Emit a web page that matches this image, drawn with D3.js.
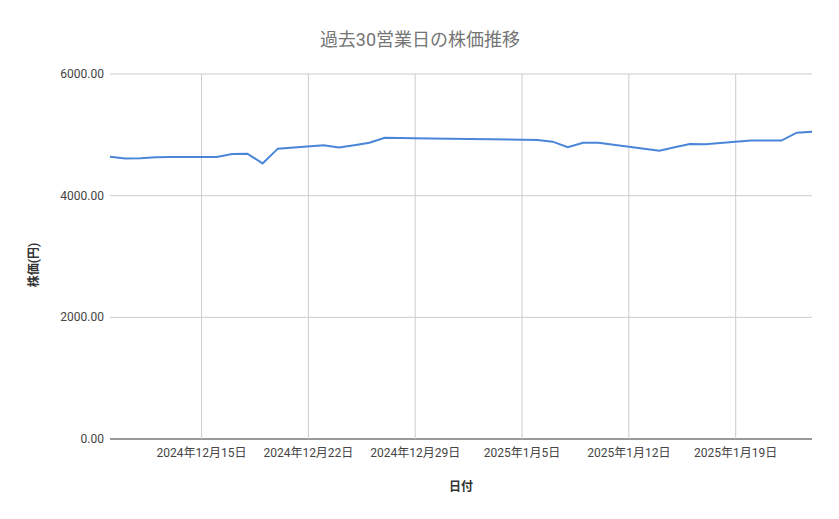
<!DOCTYPE html>
<html><head><meta charset="utf-8">
<script src="https://cdn.jsdelivr.net/npm/d3@7"></script>
<style>body{margin:0;background:#fff;font-family:Roboto,"Noto Sans CJK JP",sans-serif;}</style>
</head><body>
<div id="chart"></div>
<script>
// data
var dates = ["2024-12-09","2024-12-10","2024-12-11","2024-12-12","2024-12-13","2024-12-16","2024-12-17","2024-12-18","2024-12-19","2024-12-20",
  "2024-12-23","2024-12-24","2024-12-25","2024-12-26","2024-12-27","2024-12-30","2025-01-06","2025-01-07","2025-01-08","2025-01-09",
  "2025-01-10","2025-01-14","2025-01-15","2025-01-16","2025-01-17","2025-01-20","2025-01-21","2025-01-22","2025-01-23","2025-01-24"];
var prices = [4640,4610,4615,4630,4635,4637,4685,4690,4530,4773,
  4828,4790,4830,4870,4953,4940,4915,4888,4795,4870,
  4870,4740,4795,4850,4845,4905,4905,4905,5035,5050];
var yTicks = [0,2000,4000,6000];
var xTicks = ["2024-12-15","2024-12-22","2024-12-29","2025-01-05","2025-01-12","2025-01-19"];

var W = 839, H = 519;
var margin = {top: 74, right: 27, bottom: 80, left: 110};
var parse = d3.timeParse("%Y-%m-%d");
var data = dates.map(function(d, i){ return {date: parse(d), price: prices[i]}; });

var svg = d3.select("#chart").append("svg").attr("width", W).attr("height", H);

var x = d3.scaleTime()
    .domain([parse("2024-12-09"), parse("2025-01-24")])
    .range([margin.left, W - margin.right]);
var y = d3.scaleLinear().domain([0, 6000]).range([H - margin.bottom, margin.top]);

// gridlines
svg.append("g").selectAll("line").data(yTicks).enter().append("line")
    .attr("x1", margin.left).attr("x2", W - margin.right)
    .attr("y1", function(d){ return y(d); }).attr("y2", function(d){ return y(d); })
    .attr("stroke", function(d){ return d === 0 ? "#333" : "#ccc"; });
svg.append("g").selectAll("line").data(xTicks).enter().append("line")
    .attr("x1", function(d){ return x(parse(d)); }).attr("x2", function(d){ return x(parse(d)); })
    .attr("y1", margin.top).attr("y2", y(0))
    .attr("stroke", "#ccc");

// y axis labels
svg.append("g").selectAll("text").data(yTicks).enter().append("text")
    .attr("x", margin.left - 6).attr("y", function(d){ return y(d) + 4; })
    .attr("text-anchor", "end").attr("font-size", 12).attr("fill", "#444")
    .text(function(d){ return d3.format(".2f")(d); });

// x axis labels
svg.append("g").selectAll("text").data(xTicks).enter().append("text")
    .attr("x", function(d){ return x(parse(d)); }).attr("y", y(0) + 18)
    .attr("text-anchor", "middle").attr("font-size", 12).attr("fill", "#444")
    .text(function(d){ return d3.timeFormat("%Y年%-m月%-d日")(parse(d)); });

// line
var line = d3.line().x(function(d){ return x(d.date); }).y(function(d){ return y(d.price); });
svg.append("path").datum(data).attr("d", line)
    .attr("fill", "none").attr("stroke", "#4a86d8").attr("stroke-width", 2);

// titles
svg.append("text").attr("x", 420).attr("y", 46).attr("text-anchor", "middle")
    .attr("font-size", 18).attr("fill", "#757575").text("過去30営業日の株価推移");
svg.append("text").attr("x", 461).attr("y", 491).attr("text-anchor", "middle")
    .attr("font-size", 12).attr("font-weight", "bold").attr("fill", "#333").text("日付");
svg.append("text").attr("transform", "translate(38,265) rotate(-90)").attr("text-anchor", "middle")
    .attr("font-size", 12).attr("font-weight", "bold").attr("fill", "#333").text("株価(円)");
</script>
</body></html>
